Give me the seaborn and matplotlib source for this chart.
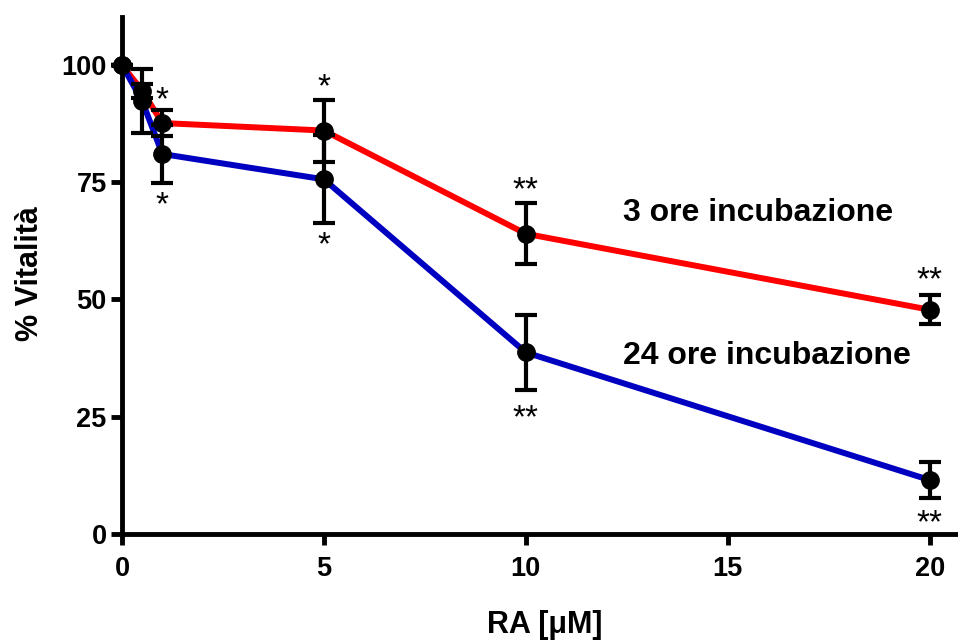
import matplotlib
matplotlib.use("Agg")
import matplotlib.pyplot as plt
import seaborn as sns
import pandas as pd

# Data
conc = [0, 0.5, 1, 5, 10, 20]
vital_3h = [100, 94.5, 87.6, 86.0, 64.0, 47.8]
sd_3h = [0, 1.5, 2.7, 6.6, 6.5, 3.1]
vital_24h = [100, 92.3, 81.0, 75.6, 38.7, 11.5]
sd_24h = [0, 6.9, 6.2, 9.4, 8.0, 3.9]
series_names = ["3 ore incubazione", "24 ore incubazione"]

# significance marks
star_x = [1, 1, 5, 5, 10, 10, 20, 20]
star_y = [92.4, 70.0, 95.2, 61.5, 73.2, 24.6, 54.0, 2.2]
star_txt = ["*", "*", "*", "*", "**", "**", "**", "**"]

xticks = [0, 5, 10, 15, 20]
yticks = [0, 25, 50, 75, 100]

sns.set_style("ticks")
plt.rcParams['font.family'] = ['Liberation Sans', 'DejaVu Sans']
for k in ["text.color", "axes.labelcolor", "xtick.color", "ytick.color", "axes.edgecolor"]:
    plt.rcParams[k] = "black"

df = pd.DataFrame({
    "conc": conc * 2,
    "vital": vital_3h + vital_24h,
    "serie": [series_names[0]] * len(conc) + [series_names[1]] * len(conc),
})

fig = plt.figure(figsize=(9.58, 6.42), dpi=100)
ax = fig.add_axes([0.1273, 0.1682, 0.8727, 0.8053])

palette = {series_names[0]: "#ff0000", series_names[1]: "#0000c0"}
sns.lineplot(data=df, x="conc", y="vital", hue="serie", palette=palette,
             linewidth=4.3, legend=False, ax=ax, clip_on=False, zorder=2)

for vals, sds in [(vital_3h, sd_3h), (vital_24h, sd_24h)]:
    ax.errorbar(conc, vals, yerr=sds, fmt="o", color="black", markersize=12.5,
                elinewidth=3, capsize=8, capthick=3, clip_on=False, zorder=3)

for x, y, t in zip(star_x, star_y, star_txt):
    ax.text(x, y, t, ha="center", va="center", fontsize=24, color="black")

ax.text(12.4, 68.4, series_names[0], fontsize=23, fontweight="bold", va="center", ha="left")
ax.text(12.4, 38.0, series_names[1], fontsize=23, fontweight="bold", va="center", ha="left")

ax.set_xlim(0, 20.7)
ax.set_ylim(0, 110.2)
ax.set_xticks(xticks)
ax.set_yticks(yticks)
ax.set_xlabel("")
ax.set_ylabel("")
for lab in ax.get_xticklabels() + ax.get_yticklabels():
    lab.set_fontweight("bold")
    lab.set_fontsize(19.5)
ax.tick_params(axis="both", direction="out", width=3.5, length=8, pad=3)
ax.tick_params(axis="x", pad=8)
for s in ["top", "right"]:
    ax.spines[s].set_visible(False)
for s in ["left", "bottom"]:
    ax.spines[s].set_linewidth(3.5)

fig.text(545 / 958, 1 - 625 / 642, "RA [\u03bcM]", ha="center", va="center",
         fontsize=22, fontweight="bold")
fig.text(30 / 958, 1 - 274 / 642, "% Vitalità", ha="center", va="center",
         rotation=90, fontsize=22, fontweight="bold")

fig.savefig("out.png", dpi=100)
